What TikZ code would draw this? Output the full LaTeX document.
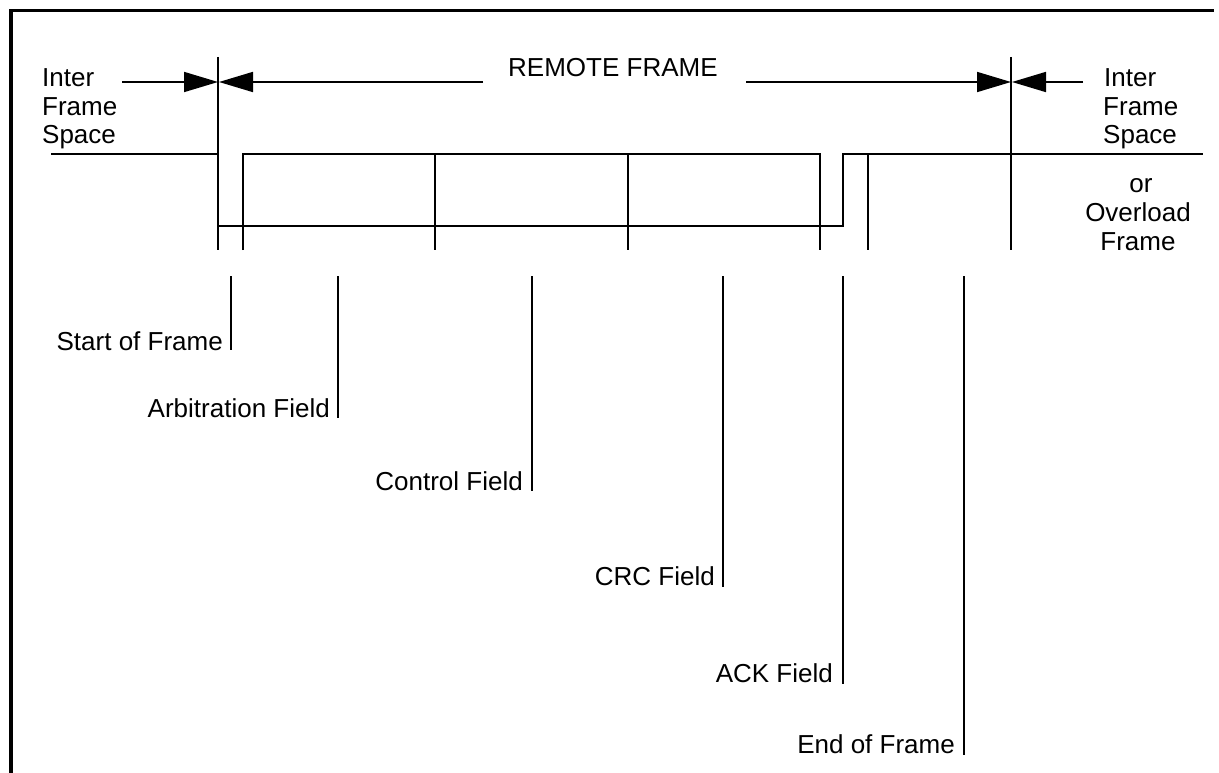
\documentclass[tikz,border=0pt]{standalone}
\usepackage{fontspec}
\setmainfont{Liberation Sans}
\usetikzlibrary{arrows.meta}
\begin{document}
\begin{tikzpicture}[x=1pt,y=-1pt,
  lbl/.style={inner sep=0pt,font=\fontsize{26pt}{28.5pt}\selectfont},
  sig/.style={line width=1.7pt},
  ptr/.style={line width=1.4pt},
  dim/.style={line width=1.7pt,-{Triangle[length=34pt,width=20pt]}},
  frame/.style={line width=3.5pt}]
\useasboundingbox (0,0) rectangle (1219,773);
% border (top and left)
\coordinate (bl) at (11,775);
\coordinate (tl) at (11,10.5);
\coordinate (tr) at (1214,10.5);
\draw[frame] (bl) -- (tl) -- (tr);

% key coordinates
\coordinate (sT) at (218,57);  \coordinate (sB) at (218,250);
\coordinate (eT) at (1011,57); \coordinate (eB) at (1011,250);
\coordinate (sA) at (218,82);  \coordinate (sA2) at (219,82);
\coordinate (eA) at (1011,82); \coordinate (eA2) at (1012,82);
\coordinate (la) at (122,82);  \coordinate (ma) at (483,82);
\coordinate (mb) at (746,82);  \coordinate (ra) at (1083,82);

% boundary markers
\draw[sig] (sT) -- (sB);
\draw[sig] (eT) -- (eB);

% dimension arrows
\draw[dim] (la) -- (sA);
\draw[dim] (ma) -- (sA2);
\draw[dim] (mb) -- (eA);
\draw[dim] (ra) -- (eA2);

% texts at top
\node[lbl,anchor=base west] (t1) at (42,87) {Inter};
\node[lbl,anchor=base west] (t2) at (42,115.5) {Frame};
\node[lbl,anchor=base west] (t3) at (42,144) {Space};
\node[lbl,anchor=base west] (rf) at (508,77) {REMOTE FRAME};
\node[lbl,anchor=base west] (r1) at (1104,87) {Inter};
\node[lbl,anchor=base west] (r2) at (1103,115.5) {Frame};
\node[lbl,anchor=base west] (r3) at (1103,144) {Space};
\node[lbl,anchor=base] (o1) at (1141,193) {or};
\node[lbl,anchor=base] (o2) at (1138,221.5) {Overload};
\node[lbl,anchor=base] (o3) at (1138,250) {Frame};

% waveform
\coordinate (w0) at (51,154);
\coordinate (w1) at (218,154);
\coordinate (lo0) at (218,226);
\coordinate (lo1) at (843,226);
\coordinate (hi2) at (843,154);
\coordinate (w9) at (1203,154);
\coordinate (a0) at (243,250); \coordinate (a1) at (243,154);
\coordinate (d1) at (820,154); \coordinate (d0) at (820,250);
\draw[sig] (w0) -- (w1);
\draw[sig] (lo0) -- (lo1) -- (hi2) -- (w9);
\draw[sig] (a0) -- (a1) -- (d1) -- (d0);
\coordinate (b1) at (435,154); \coordinate (b0) at (435,250);
\coordinate (c1) at (628,154); \coordinate (c0) at (628,250);
\coordinate (f1) at (868,154); \coordinate (f0) at (868,250);
\draw[sig] (b1) -- (b0);
\draw[sig] (c1) -- (c0);
\draw[sig] (f1) -- (f0);

% field pointers
\coordinate (p1t) at (231,276); \coordinate (p1b) at (231,350);
\coordinate (p2t) at (338,276); \coordinate (p2b) at (338,418);
\coordinate (p3t) at (532,276); \coordinate (p3b) at (532,491);
\coordinate (p4t) at (723,276); \coordinate (p4b) at (723,587);
\coordinate (p5t) at (843,276); \coordinate (p5b) at (843,684);
\coordinate (p6t) at (964,276); \coordinate (p6b) at (964,755);
\draw[ptr] (p1t) -- (p1b);
\draw[ptr] (p2t) -- (p2b);
\draw[ptr] (p3t) -- (p3b);
\draw[ptr] (p4t) -- (p4b);
\draw[ptr] (p5t) -- (p5b);
\draw[ptr] (p6t) -- (p6b);
\node[lbl,anchor=base east] (n1) at (223,350) {Start of Frame};
\node[lbl,anchor=base east] (n2) at (330,417) {Arbitration Field};
\node[lbl,anchor=base east] (n3) at (523,490) {Control Field};
\node[lbl,anchor=base east] (n4) at (715,585) {CRC Field};
\node[lbl,anchor=base east] (n5) at (833,682) {ACK Field};
\node[lbl,anchor=base east] (n6) at (955,753) {End of Frame};
\end{tikzpicture}
\end{document}
